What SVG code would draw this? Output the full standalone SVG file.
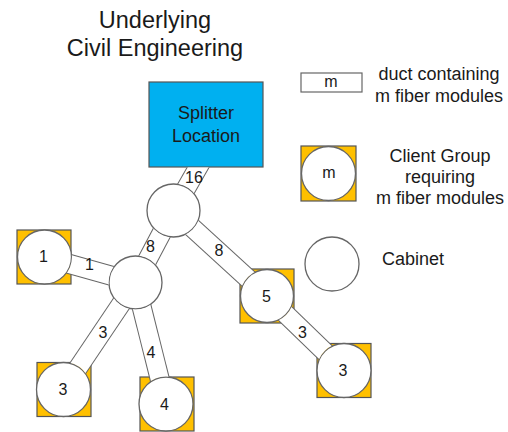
<svg xmlns="http://www.w3.org/2000/svg" width="508" height="432" viewBox="0 0 508 432">
<style>
text{font-family:"Liberation Sans",Arial,sans-serif;fill:#1a1a1a;text-anchor:middle}
.t24{font-size:23.5px}
.t18{font-size:18px}
.t16{font-size:16px}
.sq{fill:#FFC000;stroke:#555;stroke-width:1.2}
.cir{fill:#fff;stroke:#666;stroke-width:1.3}
.dO{stroke:#666;stroke-width:20;fill:none}
.dI{stroke:#fff;stroke-width:18;fill:none}
</style>
<defs>
<mask id="holes" maskUnits="userSpaceOnUse" x="0" y="0" width="508" height="432">
<rect x="0" y="0" width="508" height="432" fill="#fff"/>
<rect x="149" y="82" width="114" height="85.5" fill="#000"/>
<circle cx="173.5" cy="210.5" r="27" fill="#000"/>
<circle cx="135.5" cy="282.5" r="27" fill="#000"/>
<circle cx="44.5" cy="257" r="27.5" fill="#000"/>
<circle cx="63.5" cy="389.5" r="27.5" fill="#000"/>
<circle cx="166" cy="404" r="27.5" fill="#000"/>
<circle cx="267" cy="296" r="27" fill="#000"/>
<circle cx="344" cy="370.5" r="27.5" fill="#000"/>
</mask>
</defs>
<rect width="508" height="432" fill="#fff"/>

<g id="title">
<text class="t24" x="155" y="28">Underlying</text>
<text class="t24" x="155" y="56">Civil Engineering</text>
</g>

<g id="legend-duct">
<rect x="301" y="73" width="61" height="19" fill="#fff" stroke="#666" stroke-width="1.2"/>
<text class="t16" x="331" y="87">m</text>
<text class="t18" x="439" y="80">duct containing</text>
<text class="t18" x="439" y="102">m fiber modules</text>
</g>
<g id="legend-client">
<rect class="sq" x="301" y="146" width="55" height="55"/>
<circle class="cir" cx="328.5" cy="173.5" r="27"/>
<text class="t16" x="329" y="178">m</text>
<text class="t18" x="440" y="162">Client Group</text>
<text class="t18" x="440" y="183">requiring</text>
<text class="t18" x="440" y="204">m fiber modules</text>
</g>
<g id="legend-cabinet">
<circle class="cir" cx="332" cy="264" r="27"/>
<text class="t18" x="382" y="265" style="text-anchor:start">Cabinet</text>
</g>

<g id="splitter">
<rect x="149" y="82" width="114" height="85" fill="#00B0F0" stroke="#555" stroke-width="1.2"/>
<text class="t18" x="206" y="119">Splitter</text>
<text class="t18" x="206" y="142">Location</text>
</g>
<g id="cabinet-a"><circle class="cir" cx="173.5" cy="210.5" r="26.5"/></g>
<g id="cabinet-b"><circle class="cir" cx="135.5" cy="282.5" r="26.5"/></g>
<g id="client-1"><rect class="sq" x="17" y="230" width="54" height="54"/><circle class="cir" cx="44.5" cy="257" r="27"/><text class="t16" x="43.5" y="262">1</text></g>
<g id="client-3a"><rect class="sq" x="37" y="362.5" width="54" height="54"/><circle class="cir" cx="63.5" cy="389.5" r="27"/><text class="t16" x="63" y="395">3</text></g>
<g id="client-4"><rect class="sq" x="140" y="377" width="54" height="54"/><circle class="cir" cx="166" cy="404" r="27"/><text class="t16" x="164.5" y="409.5">4</text></g>
<g id="client-5"><rect class="sq" x="240" y="269" width="54" height="54"/><circle class="cir" cx="267" cy="296" r="26.5"/><text class="t16" x="266.5" y="301.5">5</text></g>
<g id="client-3b"><rect class="sq" x="317" y="343.5" width="54" height="54"/><circle class="cir" cx="344" cy="370.5" r="27"/><text class="t16" x="343" y="376">3</text></g>

<g id="connectors" mask="url(#holes)">
<line class="dO" x1="173.5" y1="210.5" x2="208" y2="150"/><line class="dI" x1="173.5" y1="210.5" x2="208" y2="150"/>
<line class="dO" x1="173.5" y1="210.5" x2="135.5" y2="282.5"/><line class="dI" x1="173.5" y1="210.5" x2="135.5" y2="282.5"/>
<line class="dO" x1="173.5" y1="210.5" x2="267" y2="296"/><line class="dI" x1="173.5" y1="210.5" x2="267" y2="296"/>
<line class="dO" x1="135.5" y1="282.5" x2="44.5" y2="257"/><line class="dI" x1="135.5" y1="282.5" x2="44.5" y2="257"/>
<line class="dO" x1="135.5" y1="282.5" x2="63.5" y2="389.5"/><line class="dI" x1="135.5" y1="282.5" x2="63.5" y2="389.5"/>
<line class="dO" x1="135.5" y1="282.5" x2="166" y2="404"/><line class="dI" x1="135.5" y1="282.5" x2="166" y2="404"/>
<line class="dO" x1="267" y1="296" x2="344" y2="370.5"/><line class="dI" x1="267" y1="296" x2="344" y2="370.5"/>
</g>
<g id="duct-labels">
<text class="t16" x="194" y="183">16</text>
<text class="t16" x="150.5" y="252">8</text>
<text class="t16" x="219" y="255.5">8</text>
<text class="t16" x="89.5" y="269.5">1</text>
<text class="t16" x="103" y="338">3</text>
<text class="t16" x="151" y="358">4</text>
<text class="t16" x="302.5" y="338">3</text>
</g>
</svg>
